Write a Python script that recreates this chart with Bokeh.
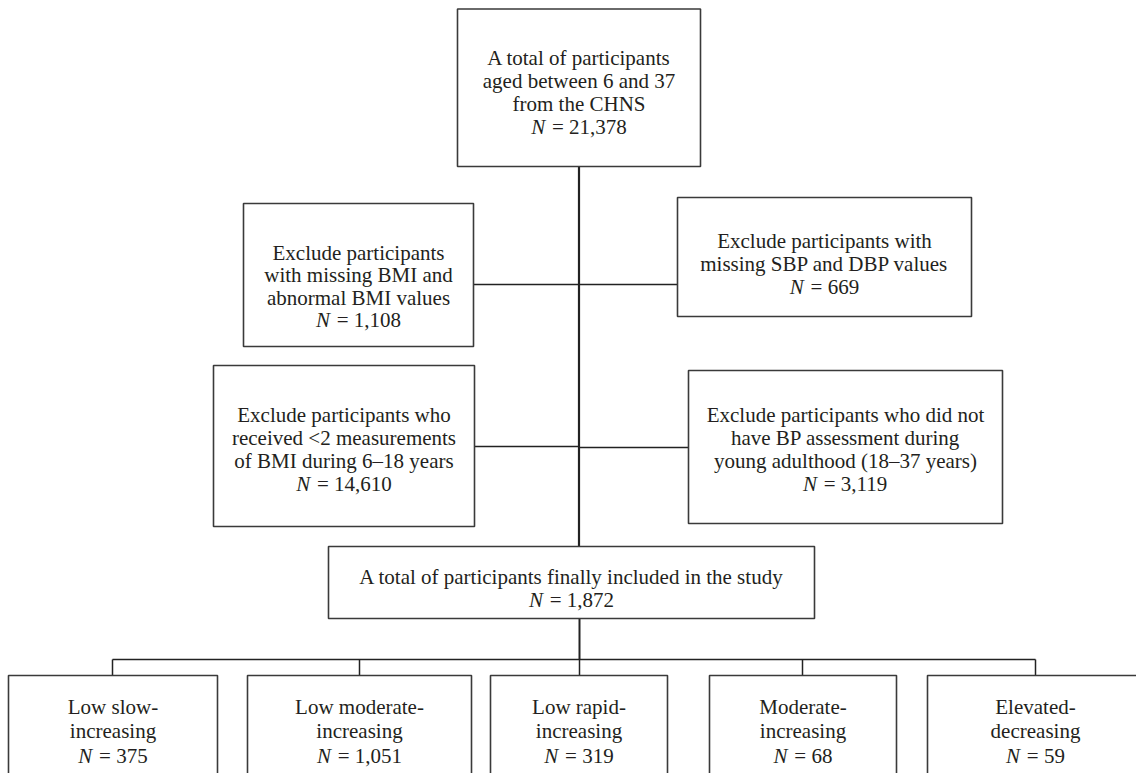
from bokeh.plotting import figure
from bokeh.models import Range1d
from bokeh.embed import file_html
from bokeh.resources import INLINE
from bokeh.core.properties import value

# ---------------- data (texts and counts) ----------------
box_texts = [
    ["A total of participants", "aged between 6 and 37", "from the CHNS"],
    ["Exclude participants", "with missing BMI and", "abnormal BMI values"],
    ["Exclude participants with", "missing SBP and DBP values"],
    ["Exclude participants who", "received <2 measurements", "of BMI during 6\u201318 years"],
    ["Exclude participants who did not", "have BP assessment during",
     "young adulthood (18\u201337 years)"],
    ["A total of participants finally included in the study"],
]
box_counts = ["21,378", "1,108", "669", "14,610", "3,119", "1,872"]

group_labels = [
    ["Low slow-", "increasing"],
    ["Low moderate-", "increasing"],
    ["Low rapid-", "increasing"],
    ["Moderate-", "increasing"],
    ["Elevated-", "decreasing"],
]
group_counts = ["375", "1,051", "319", "68", "59"]

# ---------------- layout (pixel coordinates) ----------------
W, H = 1136, 773
FONT = "Liberation Serif"
FS = 21
TEXT_COLOR = "#231f20"
BOX_COLOR = "#3a3a3a"

box_rects = [  # left, top, right, bottom
    (457, 8.5, 700, 166),
    (243, 203, 473, 346),
    (677, 197, 971, 316),
    (213, 365, 474, 526),
    (688, 370, 1002, 523),
    (328, 546, 814, 618),
]
box_first_baseline = [57, 252, 240, 414, 414, 576]
box_line_gap = [23, 22.5, 23, 23.3, 23.3, 23]

group_lr = [(8, 217), (247, 471), (490, 667), (709, 896), (927, 1150)]
group_top, group_bottom = 675, 800
group_text_x = [112.5, 359, 578.5, 802.5, 1035]
group_baselines = [706, 730, 755]

main_x = 578.5

p = figure(width=W, height=H, output_backend="svg", toolbar_location=None,
           x_range=Range1d(0, W), y_range=Range1d(H, 0),
           min_border=0, min_border_left=0, min_border_right=0,
           min_border_top=0, min_border_bottom=0)
p.axis.visible = False
p.grid.visible = False
p.outline_line_color = None
p.background_fill_color = "white"
p.border_fill_color = "white"

# Times-compatible advance widths (em) for count strings
ADV = {d: 0.5 for d in "0123456789"}
ADV.update({",": 0.25, " ": 0.25, "=": 0.564})
N_ADV = 0.667
GAP = 0.32  # space around "="


def draw_count(cx, baseline, num):
    rest = "= " + num
    wn = N_ADV * FS
    gap = GAP * FS
    wr = sum(ADV.get(c, 0.5) for c in rest) * FS
    left = cx - (wn + gap + wr) / 2
    p.text(x=[left], y=[baseline], text=["N"], text_font=value(FONT),
           text_font_style="italic", text_font_size=f"{FS}px",
           text_color=TEXT_COLOR, text_align="left", text_baseline="alphabetic")
    p.text(x=[left + wn + gap], y=[baseline], text=[rest], text_font=value(FONT),
           text_font_size=f"{FS}px", text_color=TEXT_COLOR,
           text_align="left", text_baseline="alphabetic")


def draw_lines(cx, baselines, lines):
    p.text(x=[cx] * len(lines), y=baselines[:len(lines)], text=lines,
           text_font=value(FONT), text_font_size=f"{FS}px",
           text_color=TEXT_COLOR, text_align="center",
           text_baseline="alphabetic")


# connectors
seg_x0 = [main_x, 473, main_x, 474, main_x, 579, 112]
seg_y0 = [166, 284, 284, 446, 447, 618, 659]
seg_x1 = [main_x, main_x, 677, main_x, 688, 579, 1035]
seg_y1 = [546, 284, 284, 446, 447, 659, 659]
seg_w = [2.2, 1.5, 1.5, 1.5, 1.5, 2.0, 1.5]
for x0, y0, x1, y1, lw in zip(seg_x0, seg_y0, seg_x1, seg_y1, seg_w):
    p.segment(x0=[x0], y0=[y0], x1=[x1], y1=[y1], line_color="#222222",
              line_width=lw)
tick_x = [112, 359, 579, 802, 1035]
p.segment(x0=tick_x, y0=[659] * 5, x1=tick_x, y1=[group_top] * 5,
          line_color="#222222", line_width=1.5)

# main boxes
p.quad(left=[r[0] for r in box_rects], right=[r[2] for r in box_rects],
       top=[r[1] for r in box_rects], bottom=[r[3] for r in box_rects],
       fill_color="white", line_color=BOX_COLOR, line_width=1.6)

for i, lines in enumerate(box_texts):
    l, t, r, b = box_rects[i]
    cx = (l + r) / 2
    bl = [box_first_baseline[i] + k * box_line_gap[i] for k in range(len(lines) + 1)]
    draw_lines(cx, bl, lines)
    draw_count(cx, bl[len(lines)], box_counts[i])

# group boxes
p.quad(left=[g[0] for g in group_lr], right=[g[1] for g in group_lr],
       top=[group_top] * 5, bottom=[group_bottom] * 5,
       fill_color="white", line_color=BOX_COLOR, line_width=1.6)
for i, lines in enumerate(group_labels):
    cx = group_text_x[i]
    draw_lines(cx, group_baselines, lines)
    draw_count(cx, group_baselines[2], group_counts[i])

open("out.html", "w").write(file_html(p, INLINE))
